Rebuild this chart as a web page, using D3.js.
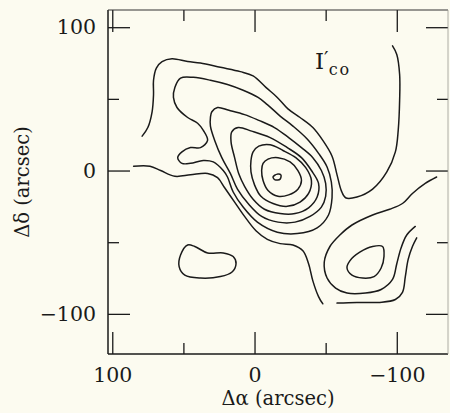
<!DOCTYPE html>
<html>
<head>
<meta charset="utf-8">
<script src="https://cdn.jsdelivr.net/npm/d3@7"></script>
<style>
  html, body { margin: 0; padding: 0; background: #fcfbf0; }
  svg { display: block; }
  text { font-family: "DejaVu Serif", serif; fill: #1a1a1a; }
</style>
</head>
<body>
<svg id="chart" width="450" height="413"></svg>
<script>
// Tick values (arcsec offsets)
const xMajor = [100, 0, -100];
const xMinor = [50, -50];
const yMajor = [100, 0, -100];
const yMinor = [50, -50];

// Contour paths as [Δα, Δδ] pairs in arcsec.
// Open contours stop at the edge of the mapped field.
const outerSouthWest = [
  [85, 3], [73.5, 3], [66, 0], [56, -4], [45, -3], [33, -2], [26, -5], [21, -12],
  [14, -22], [7, -32], [-1, -42], [-9, -48], [-18, -51], [-27, -52], [-34, -56],
  [-38, -65], [-41, -77], [-45, -88], [-48, -93]
];
const outerNorth = [
  [79, 24], [75, 30], [72, 41], [71, 53], [71, 63], [69, 71.5], [65, 76], [58, 78],
  [47, 76], [38, 75], [24, 72], [10, 69], [1, 66], [-8, 58], [-16, 51], [-23.5, 43],
  [-32, 37], [-41, 30], [-48, 21], [-54.5, 10], [-58, -3], [-61, -14], [-64, -19],
  [-72, -18.5], [-83, -13], [-93, -1], [-99, 13], [-101, 28], [-102, 49], [-102, 67],
  [-100, 81], [-97, 87]
];
const southEastArc = [
  [-128, -4.5], [-120, -9], [-111, -16], [-104, -23], [-95, -27], [-83, -31],
  [-68.5, -38], [-60, -45], [-53, -53], [-49, -64], [-51, -75], [-57, -82],
  [-65, -85.5], [-78, -85.5], [-89, -83], [-97, -76], [-100, -65], [-103, -54],
  [-107, -45], [-113, -39]
];
const southEastOuter = [
  [-114, -47], [-111, -53], [-108, -62], [-106, -74], [-104, -85], [-99, -90],
  [-88, -92], [-72, -92], [-58, -92.5]
];

// Closed contours around the central peak, outermost first
const ringHook = [
  [22, 0], [19, -4.5], [15, -15], [8, -25.5], [-2, -36], [-16, -43], [-30, -44],
  [-44, -40], [-52, -31], [-54.5, -19], [-54, -8], [-51, 2.5], [-45, 12], [-37, 22],
  [-27, 31], [-18, 38], [-9, 46], [-2.5, 51], [8, 56], [19, 60], [31, 63], [43, 65],
  [52, 64.5], [56, 58], [57, 51], [54.5, 44], [47, 37], [40, 33], [36, 28], [33, 21],
  [38, 16], [45, 16], [51, 13], [54, 9], [51, 5], [45, 5], [36, 7], [29, 6]
];
const ring2 = [
  [30, 41], [26, 44], [18, 42], [7, 39], [-3, 35], [-14, 30], [-24, 23], [-33, 16],
  [-41, 9], [-47, 0], [-50, -9], [-50, -18], [-47, -25.5], [-39, -32], [-28.5, -36],
  [-16.5, -36], [-5, -32], [4.5, -23], [12, -13], [17, -2], [23, 9], [28, 21],
  [31, 31], [31, 37]
];
const ring3 = [
  [16, 27], [11.5, 30], [2, 27.5], [-11, 23], [-23, 16], [-33, 9], [-40, 0],
  [-45, -9], [-44, -18.5], [-38, -26], [-28.5, -30], [-18, -30], [-7, -27],
  [1, -20], [7, -11], [11, -2.5], [14, 9], [16.5, 20]
];
const ring4 = [
  [1, 13], [-3, 17], [-11, 18], [-20, 14], [-29, 9], [-36, 2], [-40, -7], [-38, -16],
  [-32, -22], [-23, -25], [-13, -23], [-4.5, -18], [0, -10], [2.5, -1], [2.5, 7]
];
const ring5 = [
  [-6, 5], [-9.5, 8], [-16.5, 9], [-25, 6], [-30.5, 0], [-33, -7], [-30.5, -13],
  [-24, -17], [-16.5, -18], [-9.5, -14], [-6, -7], [-5, 0]
];
const peakCore = [
  [-13, -4.5], [-16, -2.5], [-18.5, -3], [-18, -6], [-14.5, -6.5]
];

// Secondary peak to the south-east and the isolated clump to the south-west
const southEastCore = [
  [-67, -63], [-74, -57], [-83, -53], [-90, -53], [-91, -60], [-89, -68],
  [-84, -74], [-76, -75], [-68.5, -73], [-65, -68]
];
const southWestClump = [
  [47, -52], [42, -53], [33, -57.5], [22, -57.5], [15, -60], [13, -65], [16, -71],
  [24, -74], [38, -75], [49, -73], [53, -67], [52, -59]
];

const openContours = [outerSouthWest, outerNorth, southEastArc, southEastOuter];
const closedContours = [ringHook, ring2, ring3, ring4, ring5, peakCore, southEastCore, southWestClump];

const svg = d3.select("#chart");
const plotLeft = 108, plotRight = 448, plotTop = 10, plotBottom = 354;

const x = d3.scaleLinear().domain([103, -136]).range([plotLeft, plotRight]);
const y = d3.scaleLinear().domain([112, -128]).range([plotTop, plotBottom]);

const ink = "#1a1a1a";
const majorLen = 22, minorLen = 11;

// Contours
const openLine = d3.line().x(d => x(d[0])).y(d => y(d[1])).curve(d3.curveCatmullRom.alpha(0.5));
const closedLine = d3.line().x(d => x(d[0])).y(d => y(d[1])).curve(d3.curveCatmullRomClosed.alpha(0.5));

const contours = svg.append("g")
  .attr("fill", "none")
  .attr("stroke", ink)
  .attr("stroke-width", 1.5)
  .attr("stroke-linejoin", "round")
  .attr("stroke-linecap", "round");

contours.selectAll("path.open").data(openContours).join("path")
  .attr("class", "open").attr("d", openLine);
contours.selectAll("path.closed").data(closedContours).join("path")
  .attr("class", "closed").attr("d", closedLine);

// Axes: ticks pointing inward on all four sides
function styleAxis(g) {
  g.select(".domain").remove();
  g.selectAll(".tick line").attr("stroke", ink).attr("stroke-width", 1.3);
  g.selectAll(".tick text")
    .attr("font-family", "DejaVu Serif, serif")
    .attr("font-size", 20.5)
    .attr("fill", ink);
}
const fmt = d => d < 0 ? "\u2212" + Math.abs(d) : String(d);

svg.append("g").attr("transform", `translate(0,${plotBottom})`)
  .call(d3.axisBottom(x).tickValues(xMajor).tickSizeInner(-majorLen).tickSizeOuter(0)
    .tickPadding(13).tickFormat(fmt))
  .call(styleAxis);
svg.append("g").attr("transform", `translate(0,${plotBottom})`)
  .call(d3.axisBottom(x).tickValues(xMinor).tickSizeInner(-minorLen).tickSizeOuter(0).tickFormat(""))
  .call(styleAxis);
svg.append("g").attr("transform", `translate(0,${plotTop})`)
  .call(d3.axisTop(x).tickValues(xMajor).tickSizeInner(-majorLen).tickSizeOuter(0).tickFormat(""))
  .call(styleAxis);
svg.append("g").attr("transform", `translate(0,${plotTop})`)
  .call(d3.axisTop(x).tickValues(xMinor).tickSizeInner(-minorLen).tickSizeOuter(0).tickFormat(""))
  .call(styleAxis);

svg.append("g").attr("transform", `translate(${plotLeft},0)`)
  .call(d3.axisLeft(y).tickValues(yMajor).tickSizeInner(-majorLen).tickSizeOuter(0)
    .tickPadding(12).tickFormat(fmt))
  .call(styleAxis);
svg.append("g").attr("transform", `translate(${plotLeft},0)`)
  .call(d3.axisLeft(y).tickValues(yMinor).tickSizeInner(-minorLen).tickSizeOuter(0).tickFormat(""))
  .call(styleAxis);
svg.append("g").attr("transform", `translate(${plotRight},0)`)
  .call(d3.axisRight(y).tickValues(yMajor).tickSizeInner(-majorLen).tickSizeOuter(0).tickFormat(""))
  .call(styleAxis);
svg.append("g").attr("transform", `translate(${plotRight},0)`)
  .call(d3.axisRight(y).tickValues(yMinor).tickSizeInner(-minorLen).tickSizeOuter(0).tickFormat(""))
  .call(styleAxis);

// Frame: left and bottom edges heavy, top lighter, right edge faint
const frame = svg.append("g").attr("fill", "none");
frame.append("line").attr("x1", plotLeft).attr("x2", plotLeft)
  .attr("y1", plotTop).attr("y2", plotBottom)
  .attr("stroke", ink).attr("stroke-width", 1.5);
frame.append("line").attr("x1", plotLeft).attr("x2", plotRight)
  .attr("y1", plotBottom).attr("y2", plotBottom)
  .attr("stroke", ink).attr("stroke-width", 1.5);
frame.append("line").attr("x1", plotLeft).attr("x2", plotRight)
  .attr("y1", plotTop).attr("y2", plotTop)
  .attr("stroke", "#333").attr("stroke-width", 1.1);
frame.append("line").attr("x1", plotRight).attr("x2", plotRight)
  .attr("y1", plotTop).attr("y2", plotBottom)
  .attr("stroke", "#9a9a90").attr("stroke-width", 0.8);

// Axis titles
svg.append("text")
  .attr("x", (plotLeft + plotRight) / 2).attr("y", 405)
  .attr("text-anchor", "middle").attr("font-size", 19.5)
  .text("\u0394\u03b1 (arcsec)");

svg.append("text")
  .attr("transform", `translate(29,${(plotTop + plotBottom) / 2}) rotate(-90)`)
  .attr("text-anchor", "middle").attr("font-size", 19.5)
  .text("\u0394\u03b4 (arcsec)");

// Map label: I'_CO
const lab = svg.append("text").attr("x", 315).attr("y", 69).attr("font-size", 23);
lab.append("tspan").text("I");
lab.append("tspan").attr("font-size", 20).attr("dy", -3).text("\u2032");
lab.append("tspan").attr("font-size", 16).attr("dy", 9)
  .attr("letter-spacing", 2).text("co");
</script>
</body>
</html>
